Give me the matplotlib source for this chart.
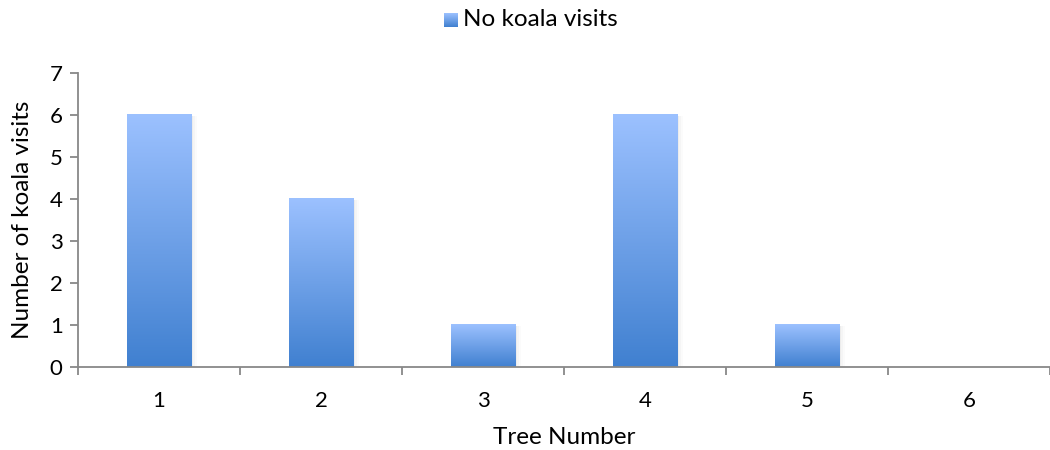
import numpy as np
import matplotlib
matplotlib.use("Agg")
import matplotlib.pyplot as plt
from matplotlib.colors import LinearSegmentedColormap
from matplotlib.patches import Rectangle

trees = ["1", "2", "3", "4", "5", "6"]
visits = [6, 4, 1, 6, 1, 0]
series_name = "No koala visits"

plt.rcParams['font.family'] = ['Lato', 'DejaVu Sans']

fig = plt.figure(figsize=(10.5, 4.5), dpi=100)
ax = fig.add_axes([0.0743, 0.1844, 0.9257, 0.6534])

grad = LinearSegmentedColormap.from_list("bar", ["#4080D0", "#9CC1FF"])
axis_gray = "#888888"
bar_w = 0.4
x = np.arange(len(trees))

for xi, v in zip(x, visits):
    if v <= 0:
        continue
    left = xi - bar_w / 2
    # soft drop shadow, mostly to the right
    for k, a in enumerate([0.035, 0.025, 0.015]):
        d = 0.01 * (k + 1)
        ax.add_patch(Rectangle((left + d * 0.2, 0), bar_w + d, v - 0.02,
                               facecolor="black", alpha=a, edgecolor="none", zorder=1))
    img = np.linspace(0, 1, 256).reshape(-1, 1)
    ax.imshow(img, cmap=grad, origin="lower", aspect="auto",
              extent=(left, left + bar_w, 0, v), zorder=2, interpolation="bilinear")

ax.set_xlim(-0.5, len(trees) - 0.5)
ax.set_ylim(0, 7)

ax.set_yticks(range(0, 8))
ax.set_xticks(x)
ax.set_xticklabels(trees)
ax.set_xticks(np.arange(-0.5, len(trees) + 0.5, 1), minor=True)
ax.tick_params(axis="x", which="major", length=0, pad=17, labelsize=16)
ax.tick_params(axis="x", which="minor", length=6, width=1.3, color=axis_gray, direction="out")
ax.tick_params(axis="y", length=6, width=1.3, color=axis_gray, direction="out", labelsize=16, pad=5)

for s in ["top", "right"]:
    ax.spines[s].set_visible(False)
for s in ["left", "bottom"]:
    ax.spines[s].set_color(axis_gray)
    ax.spines[s].set_linewidth(1.3)

ax.set_xlabel("Tree Number", fontsize=17.5, labelpad=12)
ax.set_ylabel("Number of koala visits", fontsize=17.5, labelpad=12)

# legend with a gradient swatch
lax = fig.add_axes([444 / 1050, 1 - 27 / 450, 14 / 1050, 14 / 450])
lax.imshow(np.linspace(0, 1, 64).reshape(-1, 1), cmap=grad, origin="lower", aspect="auto")
lax.axis("off")
fig.text(463 / 1050, 1 - 19 / 450, series_name, fontsize=17.5, va="center", ha="left")

fig.savefig("out.png", dpi=100)
